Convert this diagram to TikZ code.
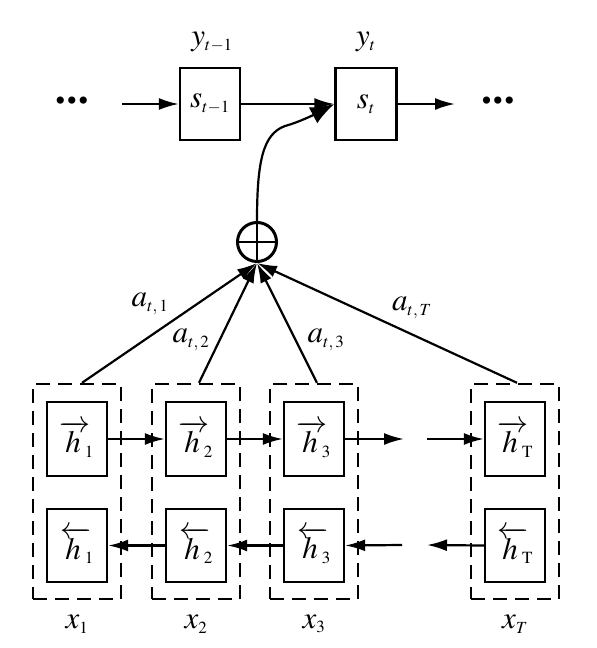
\documentclass[tikz,border=0pt]{standalone}
\usepackage{mathptmx}
\usepackage{fontspec}
\setmainfont{Liberation Serif}
\usetikzlibrary{arrows.meta}
\DeclareMathSizes{31}{31}{17}{13}
\newcommand{\hf}[1]{\mathord{\overrightarrow{h\kern5pt}}\kern-6pt_{#1}}
\newcommand{\hb}[1]{\mathord{\overleftarrow{h\kern5pt}}\kern-6pt_{#1}}
\begin{document}
\begin{tikzpicture}[x=1pt,y=-1pt,
  every node/.style={font=\fontsize{31}{36}\selectfont},
  box/.style={draw, line width=2.4pt, minimum width=60pt, minimum height=73pt, inner sep=0pt},
  group/.style={draw, line width=2.4pt, dash pattern=on 14pt off 8pt, minimum width=88pt, minimum height=215pt, inner sep=0pt},
  arr/.style={line width=2.2pt, -{Latex[length=20pt,width=12pt]}},
  bigarr/.style={line width=2.2pt, -{Latex[length=24pt,width=18pt]}},
  lab/.style={inner sep=0pt},
  dots/.style={inner sep=0pt, font=\fontsize{30}{32}\selectfont}]
\useasboundingbox (0,0) rectangle (597,648);
% top decoder row
\node[box, minimum height=72pt] (sp) at (210,104) {$s_{t-1}$};
\node[box, minimum height=72pt, minimum width=61pt] (st) at (366,104) {$s_{t}$};
\node[lab] (yp) at (212,42) {$y_{t-1}$};
\node[lab] (yt) at (366,42) {$y_{t}$};
\node[dots] (dl) at (72,104) {\textbullet\kern1pt\textbullet\kern1pt\textbullet};
\node[dots] (dr) at (498,104) {\textbullet\kern1pt\textbullet\kern1pt\textbullet};
\coordinate (ls) at (122,104);
\coordinate (re) at (455,104);
\draw[arr] (ls) -- (sp.west);
\draw[arr] (sp.east) -- (st.west);
\draw[arr] (st.east) -- (re);
% sum node
\node[circle, draw, line width=3pt, minimum size=39pt, inner sep=0pt] (o) at (257,242) {};
\draw[line width=2.2pt] (o.north) -- (o.south) (o.west) -- (o.east);
\coordinate (bend) at (285,126);
\draw[bigarr] (o.north) .. controls +(0,-60) and +(-22,8) .. (bend)
  .. controls +(15,-4) and +(-15,8) .. (st.west);
% encoder groups
\foreach \i/\x/\s/\xs in {1/77/1/1, 2/196/2/2, 3/314/3/3, T/515/\mathrm{T}/T}{
  \node[group] (d\i) at (\x,491.5) {};
  \node[box, minimum height=74pt] (f\i) at (\x,439) {$\hf{\s}$};
  \node[box] (b\i) at (\x,545.5) {$\hb{\s}$};
  \node[lab] (x\i) at (\x,624) {$x_{\xs}$};
}
% forward chain
\coordinate (fe) at (404,439);
\coordinate (fs) at (427,439);
\draw[arr] (f1.east) -- (f2.west);
\draw[arr] (f2.east) -- (f3.west);
\draw[arr] (f3.east) -- (fe);
\draw[arr] (fs) -- (fT.west);
% backward chain
\coordinate (be) at (427,545);
\coordinate (bs) at (402,545);
\draw[arr] (bT.west) -- (be);
\draw[arr] (bs) -- (b3.east);
\draw[arr] (b3.west) -- (b2.east);
\draw[arr] (b2.west) -- (b1.east);
% attention arrows
\draw[arr] ([xshift=5pt]d1.north) -- (o.south);
\draw[arr] ([xshift=3pt]d2.north) -- (o.south);
\draw[arr] ([xshift=3pt]d3.north) -- (o.south);
\draw[arr] ([xshift=2pt]dT.north) -- (o.south);
\node[lab] (a1) at (150,304) {$a_{t,\,1}$};
\node[lab] (a2) at (191,340) {$a_{t,\,2}$};
\node[lab] (a3) at (326,340) {$a_{t,\,3}$};
\node[lab] (aT) at (412,308) {$a_{t,\,T}$};
\end{tikzpicture}
\end{document}
